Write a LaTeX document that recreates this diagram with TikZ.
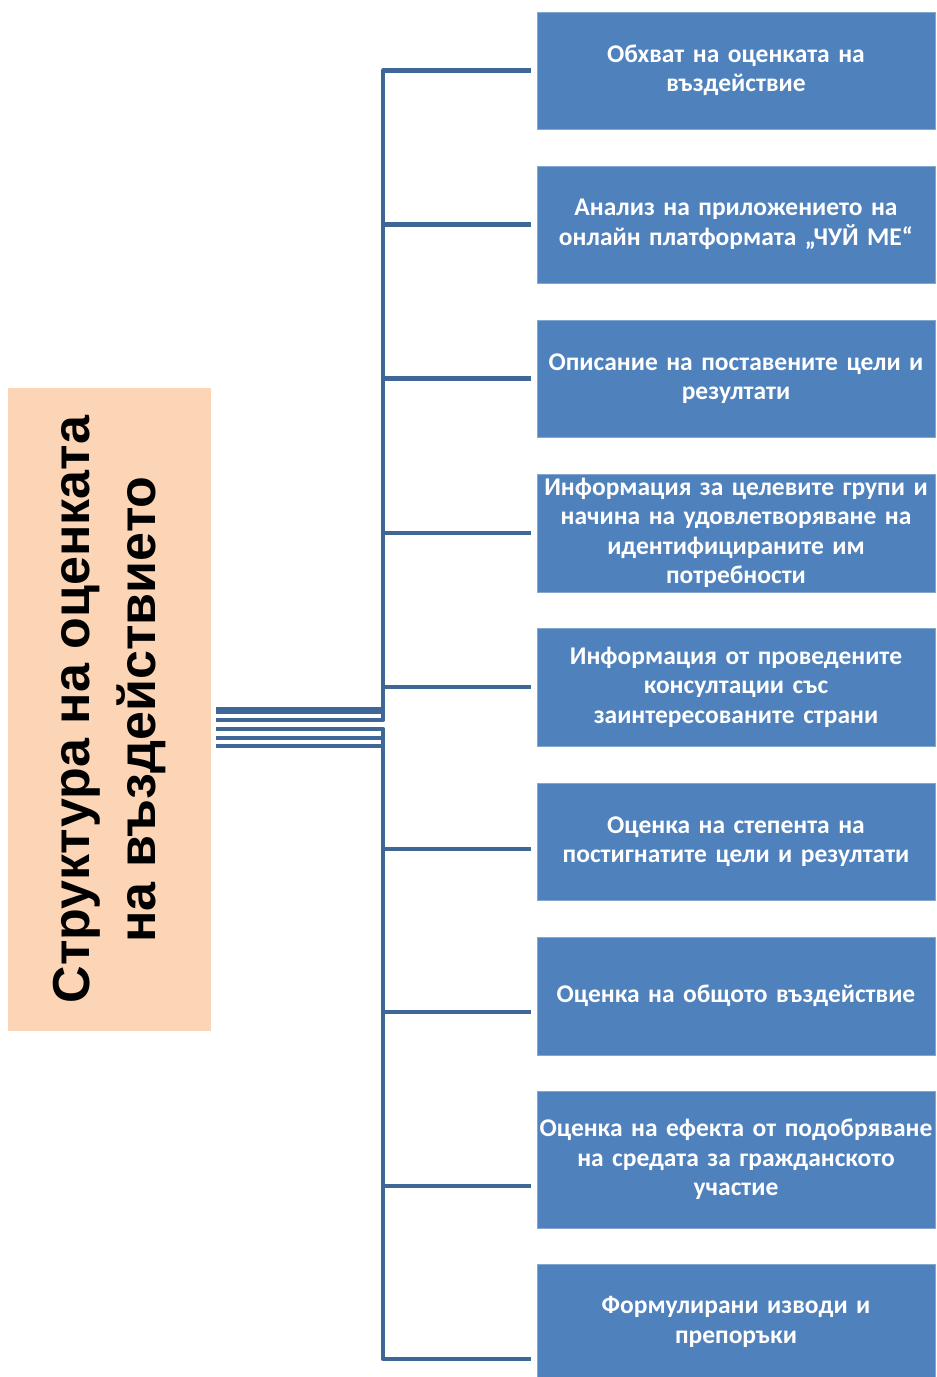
\documentclass[tikz,border=0pt]{standalone}
\usepackage{fontspec}
\setmainfont{Carlito}
\newfontfamily\rootfont{Liberation Sans}
\usetikzlibrary{positioning}
\definecolor{boxblue}{RGB}{79,129,189}
\definecolor{linkblue}{RGB}{62,103,152}
\definecolor{rootpeach}{RGB}{251,213,181}

\begin{document}
\begin{tikzpicture}[x=1pt, y=-1pt,
    item/.style={rectangle, fill=boxblue, draw=boxblue!70!white, line width=0.8pt, minimum width=398pt, text width=398pt, inner sep=0pt, align=center, text=white, font=\bfseries\fontsize{25.5}{29.5}\selectfont},
    link/.style={draw=linkblue, line width=4.5pt, line join=round, shorten <=5pt, shorten >=6pt}]
        \useasboundingbox (0,0) rectangle (937,1377);

        % Root
        \node[rectangle, fill=rootpeach, minimum width=203pt, minimum height=643pt, inner sep=0pt] (root) at (109.5,709.5) {};
        \node[rotate=90, align=center, font=\rootfont\bfseries\fontsize{52}{66}\selectfont] (roottext) at (root.center) {Структура на оценката\\на въздействието};

        % Items
        \node[item, minimum height=117pt] (b1) at (736,70.5) {Обхват на оценката на\\въздействие};
        \node[item, minimum height=117pt] (b2) at (736,224.5) {Анализ на приложението на\\онлайн платформата „ЧУЙ МЕ“};
        \node[item, minimum height=117pt] (b3) at (736,378.5) {Описание на поставените цели и\\резултати};
        \node[item, minimum height=118pt] (b4) at (736,533) {Информация за целевите групи и\\начина на удовлетворяване на\\идентифицираните им\\потребности};
        \node[item, minimum height=118pt] (b5) at (736,687) {Информация от проведените\\консултации със\\заинтересованите страни};
        \node[item, minimum height=117pt] (b6) at (736,841.5) {Оценка на степента на\\постигнатите цели и резултати};
        \node[item, minimum height=118pt] (b7) at (736,996) {Оценка на общото въздействие};
        \node[item, minimum height=137pt] (b8) at (736,1159.5) {Оценка на ефекта от подобряване\\на средата за гражданското\\участие};
        \node[item, minimum height=116pt] (b9) at (736,1322) {Формулирани изводи и\\препоръки};

        % Connectors
        \draw[link] ([yshift=0.5pt]root.east) -- ++(172,0) |- (b1.west);
        \draw[link] ([yshift=0.5pt]root.east) -- ++(172,0) |- (b2.west);
        \draw[link] ([yshift=-2.5pt]root.east) -- ++(172,0) |- (b3.west);
        \draw[link] ([yshift=-2.5pt]root.east) -- ++(172,0) |- (b4.west);
        \draw[link] ([yshift=-10.5pt]root.east) -- ++(172,0) |- (b5.west);
        \draw[link] ([yshift=-19.5pt]root.east) -- ++(172,0) |- ([yshift=-7.5pt]b6.west);
        \draw[link] ([yshift=-28.5pt]root.east) -- ++(172,0) |- ([yshift=-16pt]b7.west);
        \draw[link] ([yshift=-36.5pt]root.east) -- ++(172,0) |- ([yshift=-26.5pt]b8.west);
        \draw[link] ([yshift=-36.5pt]root.east) -- ++(172,0) |- ([yshift=-37pt]b9.west);
    \end{tikzpicture}
\end{document}
